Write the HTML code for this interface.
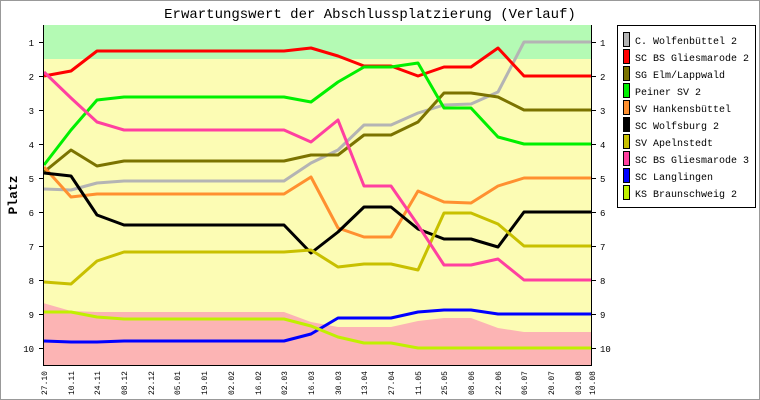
<!DOCTYPE html>
<html><head><meta charset="utf-8"><style>
html,body{margin:0;padding:0;background:#fff}
svg{display:block}
text{font-family:"Liberation Mono","DejaVu Sans Mono",monospace}
</style></head><body>
<svg width="760" height="400" viewBox="0 0 760 400" xmlns="http://www.w3.org/2000/svg">
<rect x="0.5" y="0.5" width="759" height="399" fill="#fff" stroke="#999" stroke-width="1"/>
<text x="370" y="18" font-size="14" text-anchor="middle" fill="#000">Erwartungswert der Abschlussplatzierung (Verlauf)</text>
<text transform="translate(17,195) rotate(-90)" font-size="13" font-weight="bold" text-anchor="middle">Platz</text>
<rect x="43" y="25" width="548" height="34" fill="#b4fab4"/>
<rect x="43" y="59" width="548" height="306" fill="#fcfcb4"/>
<polygon fill="#fcb4b4" points="43,303 71,311 97,312 284,312 311,322 338,327 391,327 418,321 444,318 471,318 498,328 524,332 591,332 591,365 43,365"/>
<g fill="none" stroke-width="3" stroke-linejoin="round">
<polyline stroke="#b4b4b4" points="44,189 71,190 97,183 124,181 284,181 311,163 338,150 364,125 391,125 418,113 444,105 471,104 498,92 524,42 592,42"/>
<polyline stroke="#ff0000" points="44,76 71,71 97,51 284,51 311,48 338,56 364,66 391,66 418,76 444,67 471,67 498,48 524,76 592,76"/>
<polyline stroke="#7b7300" points="44,172 71,150 97,166 124,161 284,161 311,155 338,155 364,135 391,135 418,122 444,93 471,93 498,97 524,110 592,110"/>
<polyline stroke="#00f000" points="44,165 71,130 97,100 124,97 284,97 311,102 338,82 364,67 391,67 418,63 444,108 471,108 498,137 524,144 592,144"/>
<polyline stroke="#ff9030" points="44,167 71,197 97,194 284,194 311,177 338,228 364,237 391,237 418,191 444,202 471,203 498,186 524,178 592,178"/>
<polyline stroke="#000000" points="44,173 71,176 97,215 124,225 284,225 311,253 338,232 364,207 391,207 418,229 444,239 471,239 498,247 524,212 592,212"/>
<polyline stroke="#c8c000" points="44,282 71,284 97,261 124,252 284,252 311,250 338,267 364,264 391,264 418,270 444,213 471,213 498,224 524,246 592,246"/>
<polyline stroke="#ff40a0" points="44,72 71,98 97,122 124,130 284,130 311,142 338,120 364,186 391,186 418,225 444,265 471,265 498,259 524,280 592,280"/>
<polyline stroke="#0000ff" points="44,341 71,342 97,342 124,341 284,341 311,334 338,318 391,318 418,312 444,310 471,310 498,314 592,314"/>
<polyline stroke="#c0f000" points="44,312 71,312 97,317 124,319 284,319 311,326 338,337 364,343 391,343 418,348 592,348"/>
</g>
<g stroke="#000" stroke-width="1">
<line x1="43.5" y1="25" x2="43.5" y2="365.5"/>
<line x1="591.5" y1="25" x2="591.5" y2="365.5"/>
<line x1="43" y1="365.5" x2="592" y2="365.5"/>
</g>
<g stroke="#000" stroke-width="1">
<line x1="39" y1="42.5" x2="43" y2="42.5"/><line x1="592" y1="42.5" x2="596" y2="42.5"/>
<line x1="39" y1="76.5" x2="43" y2="76.5"/><line x1="592" y1="76.5" x2="596" y2="76.5"/>
<line x1="39" y1="110.5" x2="43" y2="110.5"/><line x1="592" y1="110.5" x2="596" y2="110.5"/>
<line x1="39" y1="144.5" x2="43" y2="144.5"/><line x1="592" y1="144.5" x2="596" y2="144.5"/>
<line x1="39" y1="178.5" x2="43" y2="178.5"/><line x1="592" y1="178.5" x2="596" y2="178.5"/>
<line x1="39" y1="212.5" x2="43" y2="212.5"/><line x1="592" y1="212.5" x2="596" y2="212.5"/>
<line x1="39" y1="246.5" x2="43" y2="246.5"/><line x1="592" y1="246.5" x2="596" y2="246.5"/>
<line x1="39" y1="280.5" x2="43" y2="280.5"/><line x1="592" y1="280.5" x2="596" y2="280.5"/>
<line x1="39" y1="314.5" x2="43" y2="314.5"/><line x1="592" y1="314.5" x2="596" y2="314.5"/>
<line x1="39" y1="348.5" x2="43" y2="348.5"/><line x1="592" y1="348.5" x2="596" y2="348.5"/>
</g>
<g font-size="9" fill="#000">
<g text-anchor="end">
<text x="34" y="46">1</text><text x="34" y="80">2</text><text x="34" y="114">3</text><text x="34" y="148">4</text><text x="34" y="182">5</text><text x="34" y="216">6</text><text x="34" y="250">7</text><text x="34" y="284">8</text><text x="34" y="318">9</text><text x="34" y="352">10</text>
</g>
<text x="600" y="46">1</text><text x="600" y="80">2</text><text x="600" y="114">3</text><text x="600" y="148">4</text><text x="600" y="182">5</text><text x="600" y="216">6</text><text x="600" y="250">7</text><text x="600" y="284">8</text><text x="600" y="318">9</text><text x="600" y="352">10</text>
</g>
<g font-size="8" fill="#000" text-anchor="end">
<text transform="translate(47,371) rotate(-90)">27.10</text>
<text transform="translate(74,371) rotate(-90)">10.11</text>
<text transform="translate(100,371) rotate(-90)">24.11</text>
<text transform="translate(127,371) rotate(-90)">08.12</text>
<text transform="translate(154,371) rotate(-90)">22.12</text>
<text transform="translate(180,371) rotate(-90)">05.01</text>
<text transform="translate(207,371) rotate(-90)">19.01</text>
<text transform="translate(234,371) rotate(-90)">02.02</text>
<text transform="translate(261,371) rotate(-90)">16.02</text>
<text transform="translate(287,371) rotate(-90)">02.03</text>
<text transform="translate(314,371) rotate(-90)">16.03</text>
<text transform="translate(341,371) rotate(-90)">30.03</text>
<text transform="translate(367,371) rotate(-90)">13.04</text>
<text transform="translate(394,371) rotate(-90)">27.04</text>
<text transform="translate(421,371) rotate(-90)">11.05</text>
<text transform="translate(447,371) rotate(-90)">25.05</text>
<text transform="translate(474,371) rotate(-90)">08.06</text>
<text transform="translate(501,371) rotate(-90)">22.06</text>
<text transform="translate(527,371) rotate(-90)">06.07</text>
<text transform="translate(554,371) rotate(-90)">20.07</text>
<text transform="translate(581,371) rotate(-90)">03.08</text>
<text transform="translate(595,371) rotate(-90)">10.08</text>
</g>
<rect x="617.5" y="25.5" width="138" height="182" fill="#fff" stroke="#000"/>
<g stroke="#000" stroke-width="1">
<rect x="623.5" y="32.5" width="6" height="14" fill="#b4b4b4"/>
<rect x="623.5" y="49.5" width="6" height="14" fill="#ff0000"/>
<rect x="623.5" y="66.5" width="6" height="14" fill="#7b7300"/>
<rect x="623.5" y="83.5" width="6" height="14" fill="#00f000"/>
<rect x="623.5" y="100.5" width="6" height="14" fill="#ff9030"/>
<rect x="623.5" y="117.5" width="6" height="14" fill="#000000"/>
<rect x="623.5" y="134.5" width="6" height="14" fill="#c8c000"/>
<rect x="623.5" y="151.5" width="6" height="14" fill="#ff40a0"/>
<rect x="623.5" y="168.5" width="6" height="14" fill="#0000ff"/>
<rect x="623.5" y="185.5" width="6" height="14" fill="#c0f000"/>
</g>
<g font-size="10" fill="#000">
<text x="635" y="44">C. Wolfenbüttel 2</text>
<text x="635" y="61">SC BS Gliesmarode 2</text>
<text x="635" y="78">SG Elm/Lappwald</text>
<text x="635" y="95">Peiner SV 2</text>
<text x="635" y="112">SV Hankensbüttel</text>
<text x="635" y="129">SC Wolfsburg 2</text>
<text x="635" y="146">SV Apelnstedt</text>
<text x="635" y="163">SC BS Gliesmarode 3</text>
<text x="635" y="180">SC Langlingen</text>
<text x="635" y="197">KS Braunschweig 2</text>
</g>
</svg>
</body></html>
